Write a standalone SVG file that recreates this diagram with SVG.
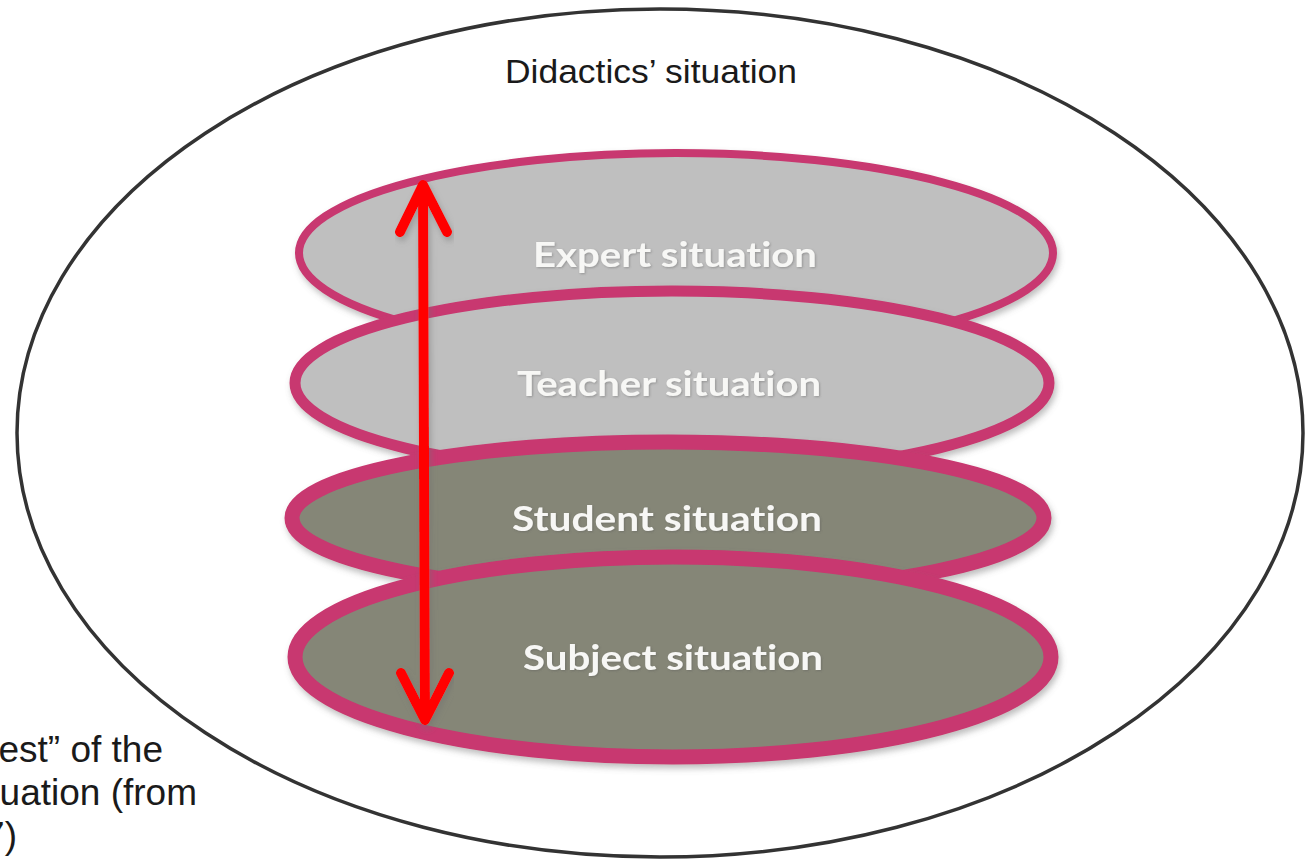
<svg xmlns="http://www.w3.org/2000/svg" width="1308" height="865" viewBox="0 0 1308 865">
<defs>
<filter id="sh" x="-10%" y="-20%" width="120%" height="140%">
<feDropShadow dx="2" dy="4" stdDeviation="3" flood-color="#707070" flood-opacity="0.45"/>
</filter>
<filter id="tsh" x="-5%" y="-20%" width="110%" height="140%">
<feDropShadow dx="1" dy="1" stdDeviation="1" flood-color="#555" flood-opacity="0.4"/>
</filter>
<style>
.outer{fill:#ffffff;stroke:#333333;stroke-width:3.5}
.lay{stroke:#c8376f;filter:url(#sh)}
.light{fill:#bfbfbf}
.dark{fill:#858677}
.lbl{font-family:Lato,"Open Sans",sans-serif;font-weight:bold;font-size:35px;fill:#f7f7f5;text-anchor:middle;filter:url(#tsh);font-variant-ligatures:none;font-feature-settings:"liga" 0,"dlig" 0}
.cap{font-family:"Liberation Sans",Arial,sans-serif;fill:#1a1a1a}
.arr{fill:none;stroke:#ff0000;stroke-width:10;stroke-linecap:round;stroke-linejoin:round}
</style>
</defs>
<rect width="1308" height="865" fill="#ffffff"/>
<g id="didactics">
<ellipse class="outer" cx="660" cy="433" rx="643" ry="424"/>
<text class="cap" x="651" y="83" font-size="34" text-anchor="middle" textLength="292" lengthAdjust="spacingAndGlyphs">Didactics’ situation</text>
</g>
<g id="expert">
<ellipse class="lay light" cx="676" cy="253" rx="377" ry="100" stroke-width="8"/>
<text class="lbl" x="675" y="267" textLength="284" lengthAdjust="spacingAndGlyphs">Expert situation</text>
</g>
<g id="teacher">
<ellipse class="lay light" cx="672" cy="383" rx="377" ry="92" stroke-width="11"/>
<text class="lbl" x="669" y="396" textLength="304" lengthAdjust="spacingAndGlyphs">Teacher situation</text>
</g>
<g id="student">
<ellipse class="lay dark" cx="668" cy="518" rx="376" ry="76" stroke-width="15"/>
<text class="lbl" x="667" y="531" textLength="310" lengthAdjust="spacingAndGlyphs">Student situation</text>
</g>
<g id="subject">
<ellipse class="lay dark" cx="673" cy="657" rx="378" ry="100" stroke-width="15"/>
<text class="lbl" x="673" y="670" textLength="300" lengthAdjust="spacingAndGlyphs">Subject situation</text>
</g>
<g id="connectors" filter="url(#sh)">
<line class="arr" x1="423" y1="188" x2="425" y2="717"/>
<polyline class="arr" points="400,232 423,185 447,232"/>
<polyline class="arr" points="401,673 425,720 449,673"/>
</g>
<g id="caption" class="cap" font-size="37" text-anchor="end">
<text x="163" y="762">est” of the</text>
<text x="197" y="805">uation (from</text>
<text x="17" y="848">7)</text>
</g>
</svg>
